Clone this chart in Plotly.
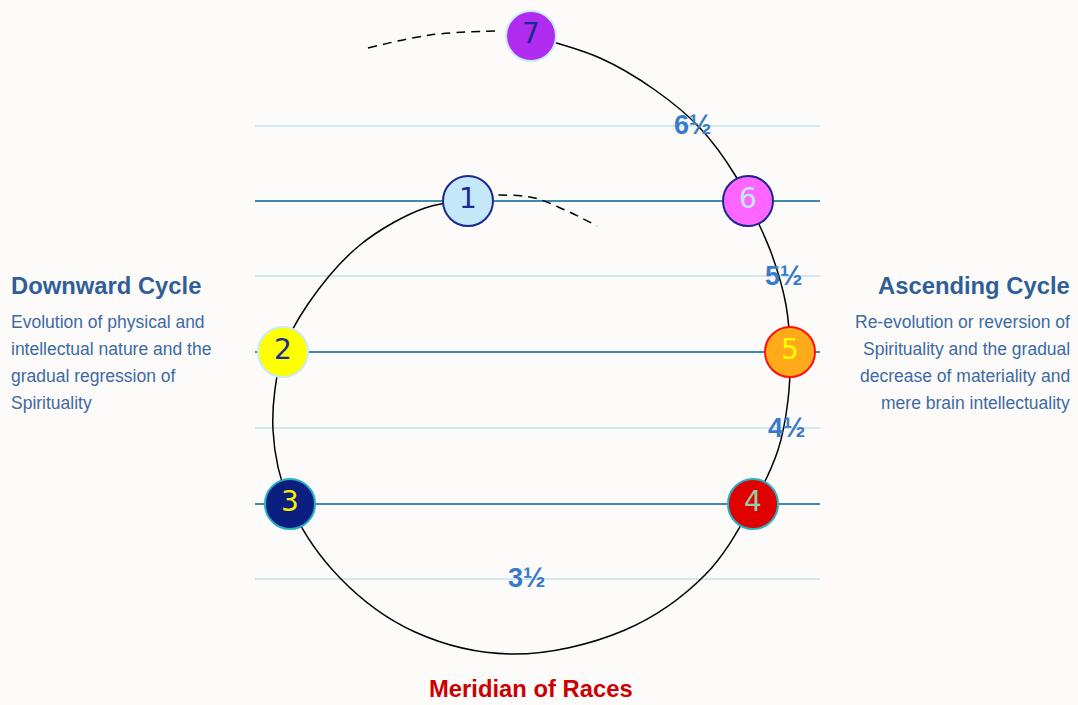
import plotly.graph_objects as go

# ---- data (diagram coordinates, y grows downward) ----
node_labels = ["1", "2", "3", "4", "5", "6", "7"]
node_x = [468, 283, 290, 753, 790, 748, 531]
node_y = [201, 352, 504, 504, 352, 201, 36]
node_fill = ["#c4e8f8", "#ffff00", "#0a1f80", "#e00000", "#ffaa1a", "#ff66ff", "#b02cf0"]
node_edge = ["#1a2a90", "#c8ecf8", "#25b0c4", "#25b0c4", "#ff1010", "#1a2a90", "#c8ecf8"]
node_text_color = ["#1a2a90", "#1a2a90", "#ffee00", "#90d0a8", "#ffff00", "#c4e8f8", "#1a2a90"]

# main spiral path (7 -> 6 -> 5 -> 4 -> bottom -> 3 -> 2 -> 1)
spiral_x = [531, 600, 655, 700, 735, 748, 772, 786, 790, 788, 778, 753, 705, 625, 513, 415, 340, 290, 273, 283, 308, 360, 425, 468]
spiral_y = [36, 58, 90, 128, 175, 201, 255, 305, 352, 400, 450, 504, 575, 630, 654, 632, 578, 504, 430, 352, 304, 245, 208, 201]

# dashed continuations
dash_top_x = [368, 430, 495]
dash_top_y = [48, 35, 31]
dash_in_x = [468, 530, 565, 597]
dash_in_y = [196, 197, 210, 226]

# level lines
line_x = [255, 820]
major_levels = [201, 352, 504]
minor_levels = [126, 276, 428, 579]

half_labels = ["6½", "5½", "4½", "3½"]
half_x = [693, 784, 787, 527]
half_y = [125, 276, 428, 578]

left_title = "Downward Cycle"
left_lines = ["Evolution of physical and", "intellectual nature and the",
              "gradual regression of", "Spirituality"]
right_title = "Ascending Cycle"
right_lines = ["Re-evolution or reversion of", "Spirituality and the gradual",
               "decrease of materiality and", "mere brain intellectuality"]
bottom_title = "Meridian of Races"

# ---- figure ----
fig = go.Figure()

for ly in minor_levels:
    fig.add_trace(go.Scatter(x=line_x, y=[ly, ly], mode="lines",
                             line=dict(color="#cfe8f1", width=2), hoverinfo="skip"))
for ly in major_levels:
    fig.add_trace(go.Scatter(x=line_x, y=[ly, ly], mode="lines",
                             line=dict(color="#3a8ea6", width=2), hoverinfo="skip"))

fig.add_trace(go.Scatter(x=spiral_x, y=spiral_y, mode="lines",
                         line=dict(color="#000000", width=1.5, shape="spline", smoothing=1.0),
                         hoverinfo="skip"))
fig.add_trace(go.Scatter(x=dash_top_x, y=dash_top_y, mode="lines",
                         line=dict(color="#000000", width=1.5, shape="spline", dash="9px,6px"),
                         hoverinfo="skip"))
fig.add_trace(go.Scatter(x=dash_in_x, y=dash_in_y, mode="lines",
                         line=dict(color="#000000", width=1.5, shape="spline", dash="9px,6px"),
                         hoverinfo="skip"))

fig.add_trace(go.Scatter(
    x=node_x, y=node_y, mode="markers+text", text=node_labels,
    textposition="middle center",
    textfont=dict(family="DejaVu Sans", size=28, color=node_text_color),
    marker=dict(size=50, color=node_fill, line=dict(color=node_edge, width=2)),
    hoverinfo="skip"))

for t, x, y in zip(half_labels, half_x, half_y):
    fig.add_annotation(x=x, y=y, text=t, showarrow=False, xanchor="center", yanchor="middle",
                       font=dict(family="Liberation Sans, Arial", size=27, color="#3a7acc", weight="bold"))

title_font = dict(family="Liberation Sans, Arial", size=23.8, color="#2f5f96", weight="bold")
desc_font = dict(family="Liberation Sans, Arial", size=17.5, color="#3d6aa3")

fig.add_annotation(x=9, y=285, text=left_title, showarrow=False, xanchor="left",
                   yanchor="middle", font=title_font)
fig.add_annotation(x=1072, y=285, text=right_title, showarrow=False, xanchor="right",
                   yanchor="middle", font=title_font)
for i, t in enumerate(left_lines):
    fig.add_annotation(x=9, y=322 + i * 26.9, text=t, showarrow=False, xanchor="left",
                       yanchor="middle", font=desc_font)
for i, t in enumerate(right_lines):
    fig.add_annotation(x=1072, y=322 + i * 26.9, text=t, showarrow=False, xanchor="right",
                       yanchor="middle", font=desc_font)

fig.add_annotation(x=531, y=705, text=bottom_title, showarrow=False, xanchor="center",
                   yanchor="bottom", yshift=1,
                   font=dict(family="Liberation Sans, Arial", size=23.8, color="#cc0000", weight="bold"))

fig.update_layout(
    width=1078, height=705, margin=dict(l=0, r=0, t=0, b=0),
    paper_bgcolor="#fcfbfa", plot_bgcolor="#fcfbfa", showlegend=False,
    xaxis=dict(range=[0, 1078], visible=False, fixedrange=True),
    yaxis=dict(range=[705, 0], visible=False, fixedrange=True),
)

fig.write_html("out.html", config={"displayModeBar": False},
               post_script="document.body.style.margin='0';document.body.style.background='#fcfbfa';document.body.style.overflow='hidden';")
